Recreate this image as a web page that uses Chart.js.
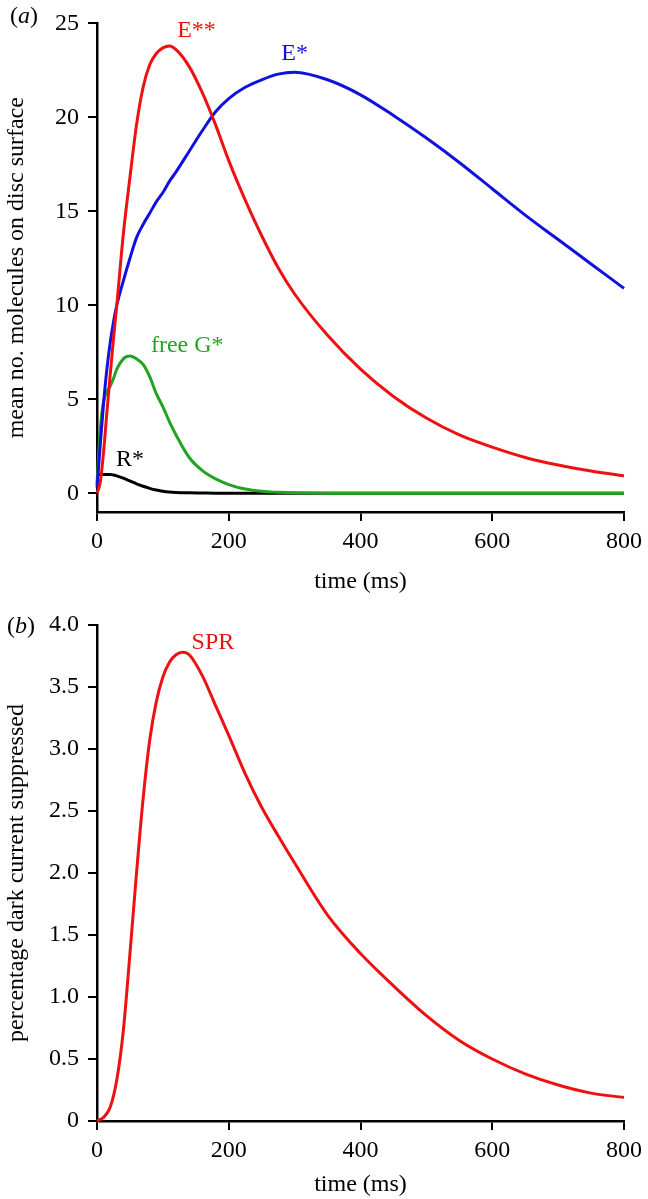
<!DOCTYPE html>
<html>
<head>
<meta charset="utf-8">
<script src="https://cdn.jsdelivr.net/npm/chart.js@4.4.1/dist/chart.umd.min.js"></script>
<style>
  body { margin: 0; background: #fff; }
  #wrap { position: relative; width: 648px; height: 1199px; }
  canvas { display: block; }
  .panel { position: absolute; font: 24px "Liberation Serif", serif; line-height: 24px; color: #000; }
</style>
</head>
<body>
<div id="wrap">
  <canvas id="chartA" width="648" height="600"></canvas>
  <canvas id="chartB" width="648" height="599"></canvas>
  <div class="panel" style="left:10px; top:3px;">(<i>a</i>)</div>
  <div class="panel" style="left:7px; top:613px;">(<i>b</i>)</div>
</div>
<script>
// panel (a): time grid in ms and the four species
var timeA = [0,5,10,15,20,25,30,40,50,60,70,80,90,100,110,120,140,160,180,200,225,250,275,300,350,400,450,500,550,600,650,700,750,800];
var eStarStar = [0,0.6,2.2,4.3,6.3,8.2,10.0,13.8,16.8,19.6,21.6,22.8,23.4,23.7,23.8,23.6,22.7,21.3,19.6,17.7,15.6,13.7,12.0,10.6,8.4,6.6,5.15,4.0,3.1,2.45,1.9,1.5,1.18,0.92];
var eStar = [0.3,2.6,4.8,6.6,8.0,9.1,10.0,11.3,12.5,13.6,14.3,14.9,15.5,16.0,16.6,17.1,18.2,19.3,20.3,21.0,21.6,22.0,22.3,22.4,22.0,21.2,20.1,18.9,17.6,16.2,14.8,13.5,12.2,10.9];
var freeG = [0.5,3.4,4.9,5.4,5.7,6.1,6.6,7.15,7.3,7.15,6.85,6.2,5.3,4.6,3.8,3.1,1.9,1.2,0.76,0.46,0.22,0.1,0.05,0.02,0,0,0,0,0,0,0,0,0,0];
var rStar = [0.95,1.0,1.0,1.0,1.0,0.97,0.92,0.8,0.65,0.5,0.37,0.26,0.17,0.1,0.06,0.04,0.02,0.01,0,0,0,0,0,0,0,0,0,0,0,0,0,0,0,0];
var yTicksA = [0,5,10,15,20,25];

// panel (b): single photon response
var timeB = [0,10,20,30,40,50,60,70,80,90,100,110,120,130,140,160,180,200,225,250,275,300,350,400,450,500,550,600,650,700,750,800];
var spr = [0,0.03,0.11,0.33,0.73,1.35,2.0,2.6,3.07,3.38,3.58,3.70,3.76,3.78,3.76,3.59,3.35,3.11,2.80,2.53,2.30,2.08,1.66,1.35,1.09,0.85,0.65,0.50,0.38,0.29,0.225,0.19];

var RED = '#ee1111', BLUE = '#1111dd', GREEN = '#22a322', BLACK = '#000';

// curve labels, anchored in data coordinates
var labelsA = [
  { text: 'E**', t: 151, v: 24.6, color: RED },
  { text: 'E*', t: 300, v: 23.4, color: BLUE },
  { text: 'free G*', t: 137, v: 7.85, color: GREEN },
  { text: 'R*', t: 50, v: 1.8, color: BLACK }
];
var labelsB = [
  { text: 'SPR', t: 176, v: 3.86, color: RED }
];

var FONT = { family: '"Liberation Serif", serif', size: 24 };

function pts(xs, ys) {
  return xs.map(function (x, i) { return { x: x, y: ys[i] }; });
}

function line(label, xs, ys, color) {
  return {
    label: label,
    data: pts(xs, ys),
    borderColor: color,
    borderWidth: 3,
    pointRadius: 0,
    cubicInterpolationMode: 'monotone',
    fill: false,
    clip: false
  };
}

var curveLabels = {
  id: 'curveLabels',
  afterDatasetsDraw: function (chart, args, opts) {
    var ctx = chart.ctx;
    ctx.save();
    ctx.font = FONT.size + 'px ' + FONT.family;
    ctx.textAlign = 'center';
    ctx.textBaseline = 'middle';
    opts.items.forEach(function (l) {
      ctx.fillStyle = l.color;
      ctx.fillText(l.text, chart.scales.x.getPixelForValue(l.t), chart.scales.y.getPixelForValue(l.v));
    });
    ctx.restore();
  }
};

function axisGrid() {
  return { display: true, drawOnChartArea: false, drawTicks: true, tickLength: 9, color: '#000', lineWidth: 2 };
}

function makeChart(id, datasets, yOpts, xHeight, padTop, titleBottom, items) {
  return new Chart(document.getElementById(id), {
    type: 'line',
    data: { datasets: datasets },
    plugins: [curveLabels],
    options: {
      responsive: false,
      animation: false,
      layout: { padding: { left: 0, right: 20, top: padTop, bottom: 0 } },
      plugins: { legend: { display: false }, tooltip: { enabled: false }, curveLabels: { items: items } },
      scales: {
        x: {
          type: 'linear', min: 0, max: 800,
          border: { display: true, color: '#000', width: 2.5 },
          grid: axisGrid(),
          ticks: { stepSize: 200, color: '#000', font: FONT, padding: 6, maxRotation: 0 },
          title: { display: true, text: 'time (ms)', color: '#000', font: FONT, padding: { top: 0, bottom: titleBottom } },
          afterFit: function (s) { s.height = xHeight; }
        },
        y: Object.assign({
          type: 'linear',
          border: { display: true, color: '#000', width: 2.5 },
          grid: axisGrid(),
          afterFit: function (s) { s.width = 97; }
        }, yOpts)
      }
    }
  });
}

makeChart('chartA', [
  line('E**', timeA, eStarStar, RED),
  line('E*', timeA, eStar, BLUE),
  line('free G*', timeA, freeG, GREEN),
  line('R*', timeA, rStar, BLACK)
], {
  min: -1, max: 25,
  afterBuildTicks: function (s) { s.ticks = yTicksA.map(function (v) { return { value: v }; }); },
  ticks: { color: '#000', font: FONT, padding: 9 },
  title: { display: true, text: 'mean no. molecules on disc surface', color: '#000', font: FONT, padding: { top: 2, bottom: 0 } }
}, 88, 15, 4, labelsA);

makeChart('chartB', [
  line('SPR', timeB, spr, RED)
], {
  min: 0, max: 4,
  ticks: {
    stepSize: 0.5, color: '#000', font: FONT, padding: 9,
    callback: function (v) { return v === 0 ? '0' : v.toFixed(1); }
  },
  title: { display: true, text: 'percentage dark current suppressed', color: '#000', font: FONT, padding: { top: 2, bottom: 0 } }
}, 78, 25, 0, labelsB);
</script>
</body>
</html>
